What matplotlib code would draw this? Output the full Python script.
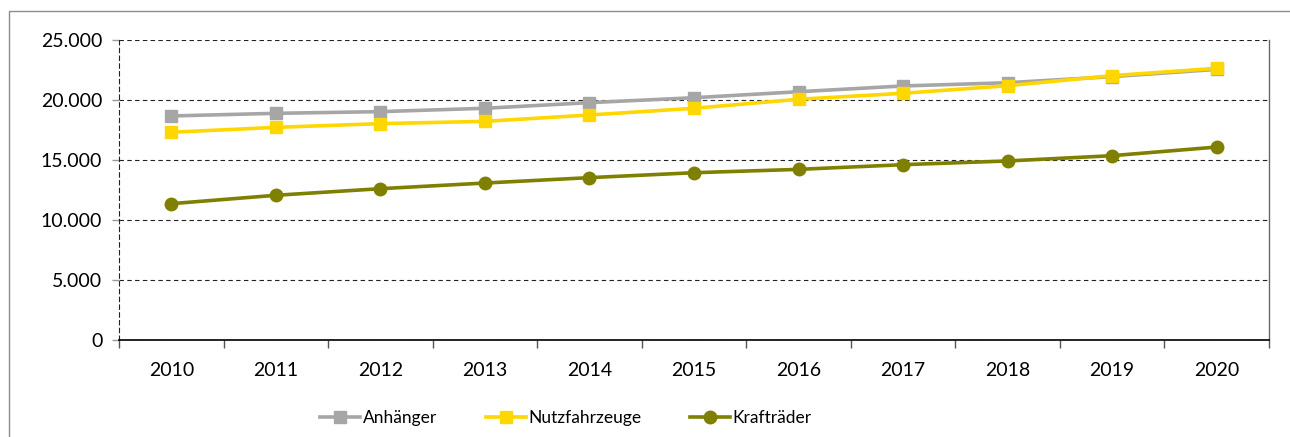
import numpy as np
import matplotlib.pyplot as plt
from matplotlib.patches import Rectangle
from matplotlib.ticker import FuncFormatter

plt.rcParams['font.family'] = ['Lato', 'DejaVu Sans']

years = ['2010', '2011', '2012', '2013', '2014', '2015', '2016', '2017', '2018', '2019', '2020']
anhaenger = [18670, 18890, 19030, 19310, 19780, 20190, 20690, 21170, 21440, 21950, 22550]
nutzfahrzeuge = [17310, 17720, 18030, 18220, 18750, 19310, 20060, 20560, 21190, 22030, 22640]
kraftraeder = [11360, 12060, 12610, 13080, 13530, 13940, 14220, 14610, 14920, 15360, 16080]

fig = plt.figure(figsize=(12.9, 4.37), dpi=100)
ax = fig.add_axes([119 / 1290, 1 - 340 / 437, 1150 / 1290, 300 / 437])

# outer frame of the chart
fig.patches.append(Rectangle((9 / 1290, -0.05), 1.2, 1.05 - 11 / 437, transform=fig.transFigure,
                             fill=False, edgecolor='#8c8c8c', linewidth=1.0, zorder=0))

x = np.arange(len(years))
ax.plot(x, anhaenger, color='#A6A6A6', lw=2.6, marker='s', ms=9, label='Anhänger', zorder=3)
ax.plot(x, nutzfahrzeuge, color='#FFD700', lw=2.6, marker='s', ms=9, label='Nutzfahrzeuge', zorder=4)
ax.plot(x, kraftraeder, color='#808000', lw=2.6, marker='o', ms=9, label='Krafträder', zorder=5)

ax.set_xlim(-0.5, len(years) - 0.5)
ax.set_ylim(0, 25000)
ax.set_yticks(np.arange(0, 25001, 5000))
ax.yaxis.set_major_formatter(FuncFormatter(lambda v, p: f'{int(v):,}'.replace(',', '.')))
ax.yaxis.grid(True, linestyle=(0, (4, 3)), color='#222222', linewidth=0.8)
ax.set_axisbelow(True)

# categories sit between the tick marks
ax.set_xticks(np.arange(-0.5, len(years), 1.0))
ax.set_xticklabels([])
ax.set_xticks(x, minor=True)
ax.set_xticklabels(years, minor=True)
ax.tick_params(axis='x', which='major', length=6, color='#555555', width=1)
ax.tick_params(axis='x', which='minor', length=0, pad=16, labelsize=14)
ax.tick_params(axis='y', length=5, color='#999999', width=1, pad=7, labelsize=14)

ax.spines['bottom'].set_color('black')
ax.spines['bottom'].set_linewidth(1.2)
ax.spines['left'].set_linestyle((0, (4, 3)))
ax.spines['left'].set_color('#222222')
ax.spines['left'].set_linewidth(0.8)
ax.spines['top'].set_visible(False)
ax.spines['right'].set_color('#666666')
ax.spines['right'].set_linewidth(1.0)

fig.legend(loc='center', bbox_to_anchor=(566 / 1290, 1 - 418 / 437), ncol=3, frameon=False,
           fontsize=12.5, handlelength=2.3, handletextpad=0.15, columnspacing=2.8)

fig.savefig('out.png', dpi=100)
